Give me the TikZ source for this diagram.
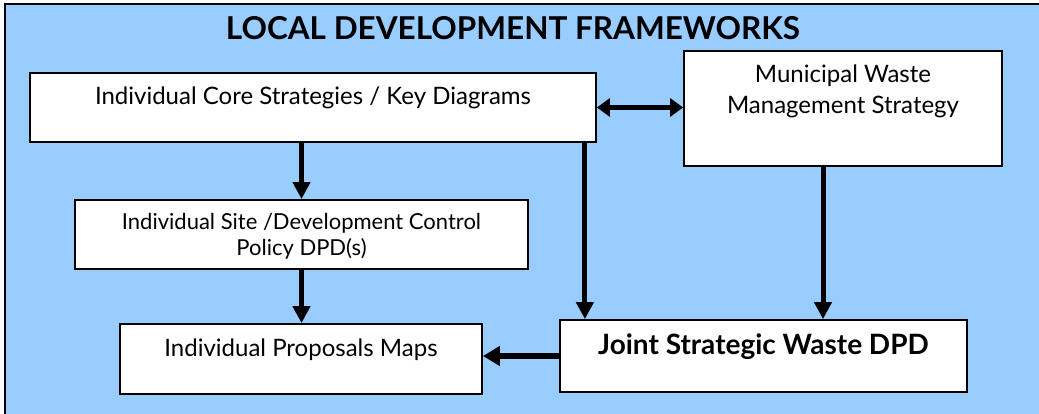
\documentclass[tikz,border=0pt]{standalone}
\usepackage{fontspec}
\setmainfont{Lato}
\usepackage{tikz}
\usetikzlibrary{arrows.meta, positioning}
\definecolor{ldfblue}{HTML}{99CCFF}

\begin{document}
\begin{tikzpicture}[x=1pt,y=-1pt,
    box/.style={draw=black,fill=white,line width=1.8pt,inner sep=0pt},
    txt/.style={align=center,inner sep=0pt,font=\fontsize{24}{31}\selectfont},
    arr/.style={line width=5pt,-{Triangle[length=17pt,width=17pt]}}]
    \useasboundingbox (0,0) rectangle (1039,414);
    \clip (0,0) rectangle (1039,414);
    % frame
    \filldraw[fill=ldfblue,draw=black,line width=1.5pt] (5,4) rectangle (1060,430);
    \node[font=\fontsize{31.5}{34}\selectfont\bfseries] (title) at (513,28) {LOCAL DEVELOPMENT FRAMEWORKS};

    % boxes
    \node[box,minimum width=566pt,minimum height=69pt]  (core) at (313,107.5) {};
    \node[box,minimum width=318pt,minimum height=115pt] (mws)  at (843,108.5) {};
    \node[box,minimum width=453pt,minimum height=69pt]  (site) at (301.5,234.5) {};
    \node[box,minimum width=362pt,minimum height=70pt]  (maps) at (301,359) {};
    \node[box,minimum width=407pt,minimum height=72pt]  (jsw)  at (763.5,356) {};

    % texts
    \node[txt] (coretxt) at ([yshift=9.5pt]core.center) {Individual Core Strategies / Key Diagrams};
    \node[txt] (mwstxt)  at ([yshift=17pt]mws.center)   {Municipal Waste\\Management Strategy};
    \node[txt,font=\fontsize{22}{26}\selectfont] (sitetxt) at ([yshift=-2pt]site.center) {Individual Site /Development Control\\Policy DPD(s)};
    \node[txt] (mapstxt) at ([yshift=9pt]maps.center)   {Individual Proposals Maps};
    \node[txt,font=\fontsize{28}{32}\selectfont\bfseries] (jswtxt) at ([yshift=9pt]jsw.center) {Joint Strategic Waste DPD};

    % links
    \draw[arr] (site.north |- core.south) -- (site.north);
    \draw[arr] (site.south) -- (site.south |- maps.north);
    \draw[arr] ([xshift=-12pt]core.south east) -- ([xshift=-12pt]core.south east |- jsw.north);
    \draw[arr] ([xshift=-20pt]mws.south) -- ([xshift=-20pt]mws.south |- jsw.north);
    \draw[line width=6pt,-{Triangle[length=17pt,width=19pt]}] (jsw.west) -- (jsw.west -| maps.east);
    \draw[line width=5pt,{Triangle[length=13pt,width=18pt]}-{Triangle[length=13pt,width=18pt]}]
        (core.east) -- (core.east -| mws.west);
\end{tikzpicture}
\end{document}
